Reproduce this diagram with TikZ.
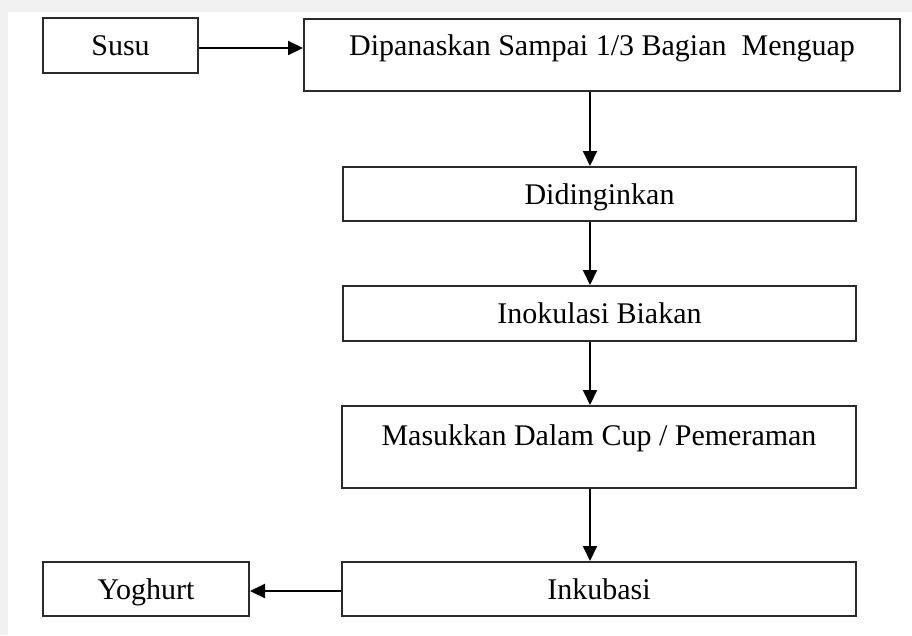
\documentclass[tikz,border=0pt]{standalone}
\usepackage{fontspec}
\setmainfont{Liberation Serif}
\usetikzlibrary{arrows.meta}
\definecolor{bgband}{HTML}{F0F0F0}
\definecolor{edge}{HTML}{2A2A2A}
\tikzset{
  box/.style={draw=edge, line width=2pt, inner sep=0pt, fill=white,
    font=\fontsize{30pt}{36pt}\selectfont, text height=20pt, text depth=0pt},
  arr/.style={draw=black, line width=2pt, -{Triangle[length=15pt,width=14pt]}}
}
\begin{document}
\begin{tikzpicture}[x=1pt,y=-1pt]
\useasboundingbox (0,0) rectangle (912,635);
\fill[bgband] (0,0) rectangle (912,635);
\fill[white] (8,12) rectangle (912,635);
\node[box, minimum width=155pt, minimum height=55pt] (susu) at (120.5,45.5) {Susu};
\node[box, minimum width=596pt, minimum height=72pt, text depth=18.6pt] (dip) at (602,55) {Dipanaskan Sampai 1/3 Bagian\ \ Menguap};
\node[box, minimum width=513pt, minimum height=54pt] (didi) at (599.5,194) {Didinginkan};
\node[box, minimum width=513pt, minimum height=55pt] (inok) at (599.5,313.5) {Inokulasi Biakan};
\node[box, minimum width=514pt, minimum height=82pt, text depth=24pt] (masuk) at (599,447) {Masukkan Dalam Cup / Pemeraman};
\node[box, minimum width=514pt, minimum height=54pt] (inku) at (599,589) {Inkubasi};
\node[box, minimum width=206pt, minimum height=54pt] (yog) at (146,589) {Yoghurt};
\coordinate (ax) at (590,0);
\draw[arr] ([yshift=-2.5pt]susu.east) -- ([yshift=-2.5pt]susu.east -| dip.west);
\draw[arr] (dip.south -| ax) -- (didi.north -| ax);
\draw[arr] (didi.south -| ax) -- (inok.north -| ax);
\draw[arr] (inok.south -| ax) -- (masuk.north -| ax);
\draw[arr] (masuk.south -| ax) -- (inku.north -| ax);
\draw[arr] ([yshift=-2pt]inku.west) -- ([yshift=-2pt]inku.west -| yog.east);
\end{tikzpicture}
\end{document}
